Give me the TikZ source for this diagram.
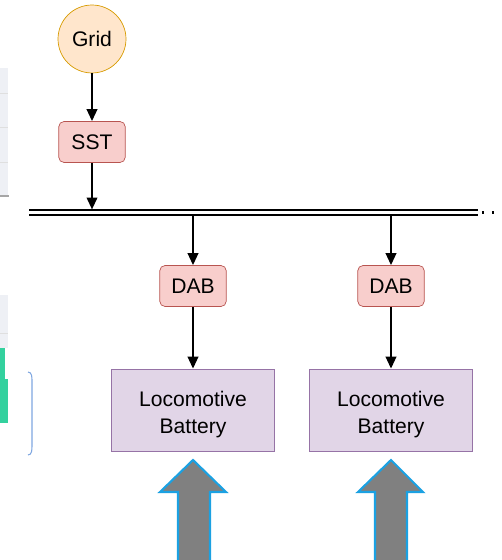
\documentclass[tikz,border=0pt]{standalone}
\usepackage{fontspec}
\setmainfont{Liberation Sans}
\usepackage{tikz}
\usetikzlibrary{arrows.meta,positioning,calc}
\definecolor{gridFill}{HTML}{FFE6CC}
\definecolor{gridLine}{HTML}{D79B00}
\definecolor{convFill}{HTML}{F8CECC}
\definecolor{convLine}{HTML}{B85450}
\definecolor{batFill}{HTML}{E1D5E7}
\definecolor{batLine}{HTML}{9673A6}
\definecolor{flowBlue}{HTML}{1BA1E2}
\definecolor{flowGray}{HTML}{808080}
\definecolor{paneGray}{HTML}{EEF0F5}
\definecolor{barGreen}{HTML}{33D19E}
\definecolor{paneBlue}{HTML}{7EA6E0}

\begin{document}
\begin{tikzpicture}[x=0.02cm,y=-0.02cm,
        txt/.style={font=\fontsize{12}{15.5}\selectfont,align=center},
        conv/.style={txt,draw=convLine,fill=convFill,rounded corners=3pt,minimum width=1.33cm,minimum height=0.82cm,inner sep=0pt},
        bat/.style={txt,draw=batLine,fill=batFill,minimum width=3.26cm,minimum height=1.64cm,inner sep=0pt},
        arrow/.style={-{Triangle[length=2.4mm,width=2.1mm]},line width=1.25pt},
        blockup/.style={draw=flowBlue,fill=flowGray,line width=1.2pt,line join=miter}
      ]
        \useasboundingbox (0,0) rectangle (501,560);
        % bits of the neighbouring figure at the left edge
        \fill[paneGray] (0,68) rectangle (8,196);
        \draw[gray!25] (0,93) -- (8,93) (0,127) -- (8,127) (0,162) -- (8,162);
        \draw[gray!70,line width=0.8pt] (0,196) -- (9,196);
        \fill[paneGray] (0,295) rectangle (8,348);
        \draw[gray!25] (0,333) -- (8,333);
        \fill[barGreen] (0,348) rectangle (5,423);
        \fill[barGreen] (5,379) rectangle (8,423);
        \draw[paneBlue,line width=0.6pt] (28,372) to[out=0,in=90] (32,382) -- (32,446) to[out=-90,in=0] (28,455);

        \node[txt,circle,draw=gridLine,fill=gridFill,minimum size=1.36cm,inner sep=0pt] (grid) at (92,39) {Grid};
        \node[conv] (sst) at (92,142) {SST};
        \node[conv] (dabA) at (193,286) {DAB};
        \node[conv] (dabB) at (391,286) {DAB};
        \node[bat] (batA) at (193,410) {\raisebox{-2.5pt}[\height][\depth]{\parbox{3cm}{\centering Locomotive\\Battery}}};
        \node[bat] (batB) at (391,410) {\raisebox{-2.5pt}[\height][\depth]{\parbox{3cm}{\centering Locomotive\\Battery}}};

        % dc bus
        \coordinate (busL) at (29,212.5);
        \coordinate (busR) at (478,212.5);
        \coordinate (busEnd) at (497,212.5);
        \draw[line width=0.75pt,double distance=0.075cm] (busL) -- (busR);
        \draw[line width=1.3pt,dash pattern=on 1.3pt off 4.4pt] ($(busR)+(4,0)$) -- (busEnd);
        \coordinate (tapSST) at (92,209.5);
        \coordinate (tapA) at (193,215);
        \coordinate (tapB) at (391,215);

        \draw[arrow] (grid) -- (sst);
        \draw[arrow] (sst) -- (tapSST);
        \draw[arrow] (tapA) -- (dabA);
        \draw[arrow] (tapB) -- (dabB);
        \draw[arrow] (dabA) -- (batA);
        \draw[arrow] (dabB) -- (batB);

        % charging inputs
        \draw[blockup] (193,460) -- (226,492) -- (210,492) -- (210,562) -- (178,562) -- (178,492) -- (160,492) -- cycle;
        \draw[blockup] (391,460) -- (423,492) -- (407,492) -- (407,562) -- (375,562) -- (375,492) -- (358,492) -- cycle;
      \end{tikzpicture}
\end{document}
